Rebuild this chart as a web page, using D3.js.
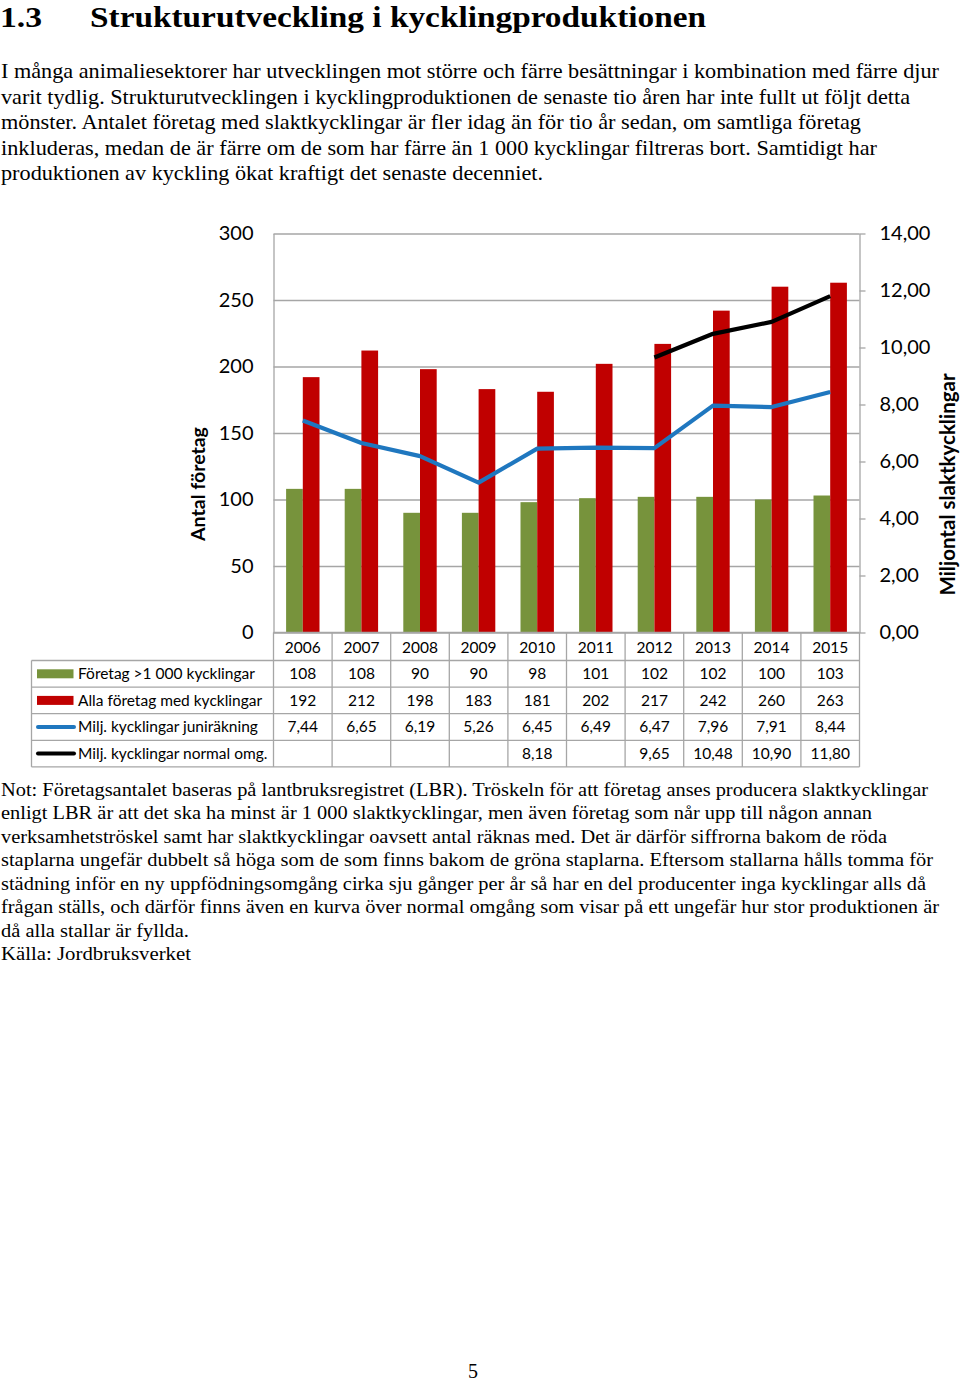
<!DOCTYPE html>
<html>
<head>
<meta charset="utf-8">
<script src="https://cdn.jsdelivr.net/npm/d3@7"></script>
<style>
  html, body { margin: 0; padding: 0; background: #fff; }
  svg { display: block; }
</style>
</head>
<body>
<script>
// ---------- DATA ----------
const years = ["2006","2007","2008","2009","2010","2011","2012","2013","2014","2015"];
const foretagOver1000 = [108,108,90,90,98,101,102,102,100,103];
const allaForetag = [192,212,198,183,181,202,217,242,260,263];
const miljJunirakning = [7.44,6.65,6.19,5.26,6.45,6.49,6.47,7.96,7.91,8.44];
const miljNormalOmg = [null,null,null,null,8.18,null,9.65,10.48,10.90,11.80];
const seriesNames = ["Företag >1 000 kycklingar","Alla företag med kycklingar","Milj. kycklingar juniräkning","Milj. kycklingar normal omg."];
const leftTicks = [0,50,100,150,200,250,300];
const rightTicks = [0,2,4,6,8,10,12,14];
const leftTitle = "Antal företag";
const rightTitle = "Miljontal slaktkycklingar";

const titleNum = "1.3";
const titleText = "Strukturutveckling i kycklingproduktionen";
const introLines = [
  "I många animaliesektorer har utvecklingen mot större och färre besättningar i kombination med färre djur",
  "varit tydlig. Strukturutvecklingen i kycklingproduktionen de senaste tio åren har inte fullt ut följt detta",
  "mönster. Antalet företag med slaktkycklingar är fler idag än för tio år sedan, om samtliga företag",
  "inkluderas, medan de är färre om de som har färre än 1 000 kycklingar filtreras bort. Samtidigt har",
  "produktionen av kyckling ökat kraftigt det senaste decenniet."
];
const noteLines = [
  "Not: Företagsantalet baseras på lantbruksregistret (LBR). Tröskeln för att företag anses producera slaktkycklingar",
  "enligt LBR är att det ska ha minst är 1 000 slaktkycklingar, men även företag som når upp till någon annan",
  "verksamhetströskel samt har slaktkycklingar oavsett antal räknas med. Det är därför siffrorna bakom de röda",
  "staplarna ungefär dubbelt så höga som de som finns bakom de gröna staplarna. Eftersom stallarna hålls tomma för",
  "städning inför en ny uppfödningsomgång cirka sju gånger per år så har en del producenter inga kycklingar alls då",
  "frågan ställs, och därför finns även en kurva över normal omgång som visar på ett ungefär hur stor produktionen är",
  "då alla stallar är fyllda.",
  "Källa: Jordbruksverket"
];
const pageNumber = "5";

// ---------- LAYOUT ----------
const W = 960, H = 1383;
const serif = "'Liberation Serif','Times New Roman',serif";
const sans = "Lato, Carlito, Calibri, sans-serif";
const colors = { green: "#77933C", red: "#C00000", blue: "#1F77BF", black: "#000000", grid: "#A6A6A6" };

const plot = { left: 273.5, right: 859.5, top: 233.5, bottom: 632.5 };
const table = { left: 31.5, headerBottom: 660.5, rowH: 26.6 };

const svg = d3.select("body").append("svg").attr("width", W).attr("height", H);

// ---------- PAGE TEXT ----------
const introWidths = [938, 909, 860, 876, 542];
const noteWidths = [927, 871, 886, 932, 925, 938, 188, 190];

svg.append("text").attr("x", 0).attr("y", 27).attr("font-family", serif).attr("font-weight", "bold")
  .attr("font-size", 30).attr("textLength", 42).attr("lengthAdjust", "spacingAndGlyphs").text(titleNum);
svg.append("text").attr("x", 90).attr("y", 27).attr("font-family", serif).attr("font-weight", "bold")
  .attr("font-size", 30).attr("textLength", 616).attr("lengthAdjust", "spacingAndGlyphs").text(titleText);

svg.append("g").selectAll("text").data(introLines).join("text")
  .attr("x", 1).attr("y", (d, i) => 78 + i * 25.6)
  .attr("font-family", serif).attr("font-size", 21)
  .attr("textLength", (d, i) => introWidths[i]).attr("lengthAdjust", "spacingAndGlyphs")
  .text(d => d);

svg.append("g").selectAll("text").data(noteLines).join("text")
  .attr("x", 1).attr("y", (d, i) => 796 + i * 23.45)
  .attr("font-family", serif).attr("font-size", 19.5)
  .attr("textLength", (d, i) => noteWidths[i]).attr("lengthAdjust", "spacingAndGlyphs")
  .text(d => d);

svg.append("text").attr("x", 473).attr("y", 1378).attr("text-anchor", "middle")
  .attr("font-family", serif).attr("font-size", 20).text(pageNumber);

// ---------- SCALES ----------
const x = d3.scaleBand().domain(years).range([plot.left, plot.right]).paddingInner(0).paddingOuter(0);
const barW = 16.7;
const xSub = d3.scaleBand().domain(["green", "red"])
  .range([x.bandwidth() / 2 - barW, x.bandwidth() / 2 + barW]).padding(0);
const yL = d3.scaleLinear().domain([0, 300]).range([plot.bottom, plot.top]);
const yR = d3.scaleLinear().domain([0, 14]).range([plot.bottom, plot.top]);

// ---------- AXES & GRID ----------
const gL = svg.append("g").attr("transform", `translate(${plot.left},0)`)
  .call(d3.axisLeft(yL).tickValues(leftTicks).tickSize(-(plot.right - plot.left)).tickSizeOuter(0).tickPadding(20).tickFormat(d3.format("d")));
gL.selectAll("line").attr("stroke", colors.grid).attr("stroke-width", 1.3);
gL.select(".domain").attr("stroke", colors.grid).attr("stroke-width", 1.3);
gL.selectAll("text").attr("font-family", sans).attr("font-size", 20).attr("fill", "#000");

const gR = svg.append("g").attr("transform", `translate(${plot.right},0)`)
  .call(d3.axisRight(yR).tickValues(rightTicks).tickSize(6).tickSizeOuter(0).tickPadding(14)
    .tickFormat(d => d3.format(".2f")(d).replace(".", ",")));
gR.selectAll("line").attr("stroke", colors.grid).attr("stroke-width", 1.3);
gR.select(".domain").attr("stroke", colors.grid).attr("stroke-width", 1.3);
gR.selectAll("text").attr("font-family", sans).attr("font-size", 20).attr("fill", "#000");

// axis titles
svg.append("text").attr("transform", `translate(205,${(425 + 543) / 2}) rotate(-90)`)
  .attr("text-anchor", "middle").attr("font-family", sans).attr("font-weight", "bold").attr("font-size", 19.5)
  .attr("fill", "#000").text(leftTitle);
svg.append("text").attr("transform", `translate(955,${(372 + 597) / 2}) rotate(-90)`)
  .attr("text-anchor", "middle").attr("font-family", sans).attr("font-weight", "bold").attr("font-size", 20.5)
  .attr("fill", "#000").text(rightTitle);

// ---------- BARS ----------
const barData = years.map((y, i) => ({ year: y, green: foretagOver1000[i], red: allaForetag[i] }));
const bars = svg.append("g").selectAll("g").data(barData).join("g")
  .attr("transform", d => `translate(${x(d.year)},0)`);
bars.selectAll("rect").data(d => ["green", "red"].map(k => ({ key: k, value: d[k] }))).join("rect")
  .attr("x", d => xSub(d.key)).attr("width", xSub.bandwidth())
  .attr("y", d => yL(d.value)).attr("height", d => yL(0) - yL(d.value))
  .attr("fill", d => colors[d.key]);

// ---------- LINES ----------
const cx = d => x(d.year) + x.bandwidth() / 2;
const lineGen = d3.line().defined(d => d.value != null).x(cx).y(d => yR(d.value));
const blueData = years.map((y, i) => ({ year: y, value: miljJunirakning[i] }));
const blackData = years.map((y, i) => ({ year: y, value: miljNormalOmg[i] }));
svg.append("path").datum(blueData).attr("d", lineGen).attr("fill", "none")
  .attr("stroke", colors.blue).attr("stroke-width", 4.2).attr("stroke-linejoin", "round");
svg.append("path").datum(blackData).attr("d", lineGen).attr("fill", "none")
  .attr("stroke", colors.black).attr("stroke-width", 4.2).attr("stroke-linejoin", "round");

// ---------- DATA TABLE ----------
const tg = svg.append("g");
const nRows = seriesNames.length;
const rowY = i => table.headerBottom + i * table.rowH;
const tableBottom = rowY(nRows);
tg.append("line").attr("x1", plot.left).attr("x2", plot.right).attr("y1", plot.bottom).attr("y2", plot.bottom);
d3.range(nRows + 1).forEach(i => {
  tg.append("line").attr("x1", table.left).attr("x2", plot.right).attr("y1", rowY(i)).attr("y2", rowY(i));
});
tg.append("line").attr("x1", table.left).attr("x2", table.left).attr("y1", table.headerBottom).attr("y2", tableBottom);
years.forEach(yv => {
  tg.append("line").attr("x1", x(yv)).attr("x2", x(yv)).attr("y1", plot.bottom).attr("y2", tableBottom);
});
tg.append("line").attr("x1", plot.right).attr("x2", plot.right).attr("y1", plot.bottom).attr("y2", tableBottom);
tg.selectAll("line").attr("stroke", colors.grid).attr("stroke-width", 1.3);

tg.append("g").selectAll("text").data(years).join("text")
  .attr("x", d => x(d) + x.bandwidth() / 2).attr("y", (plot.bottom + table.headerBottom) / 2 + 1)
  .attr("dy", "0.35em").attr("text-anchor", "middle")
  .attr("font-family", sans).attr("font-size", 15.5).attr("fill", "#000").text(d => d);

const fmt2 = v => v == null ? "" : d3.format(".2f")(v).replace(".", ",");
const rows = [
  { name: seriesNames[0], values: foretagOver1000.map(String), type: "rect", color: colors.green },
  { name: seriesNames[1], values: allaForetag.map(String), type: "rect", color: colors.red },
  { name: seriesNames[2], values: miljJunirakning.map(fmt2), type: "line", color: colors.blue },
  { name: seriesNames[3], values: miljNormalOmg.map(fmt2), type: "line", color: colors.black }
];
rows.forEach((r, i) => {
  const cy = rowY(i) + table.rowH / 2;
  if (r.type === "rect") {
    tg.append("rect").attr("x", 37).attr("y", cy - 4.5).attr("width", 36.5).attr("height", 9).attr("fill", r.color);
  } else {
    tg.append("line").attr("x1", 38).attr("x2", 74).attr("y1", cy).attr("y2", cy)
      .attr("stroke", r.color).attr("stroke-width", 4).attr("stroke-linecap", "round");
  }
  tg.append("text").attr("x", 78).attr("y", cy).attr("dy", "0.35em")
    .attr("font-family", sans).attr("font-size", 15.5).attr("fill", "#000").text(r.name);
  tg.append("g").selectAll("text").data(r.values).join("text")
    .attr("x", (d, j) => x(years[j]) + x.bandwidth() / 2).attr("y", cy).attr("dy", "0.35em")
    .attr("text-anchor", "middle").attr("font-family", sans).attr("font-size", 15.5).attr("fill", "#000")
    .text(d => d);
});
</script>
</body>
</html>
